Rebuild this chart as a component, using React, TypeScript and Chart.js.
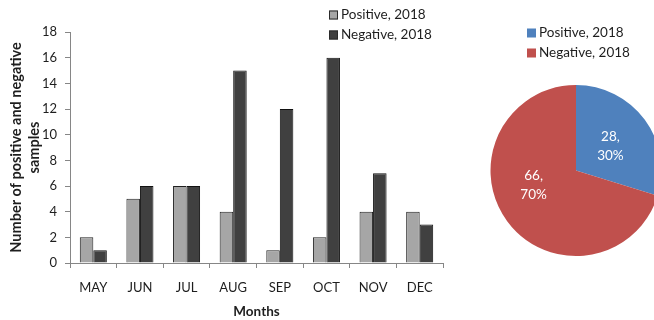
import React, { useEffect, useRef } from 'react';
import { Chart, registerables } from 'chart.js';

Chart.register(...registerables);

const months = ['MAY', 'JUN', 'JUL', 'AUG', 'SEP', 'OCT', 'NOV', 'DEC'];
const positive2018 = [2, 5, 6, 4, 1, 2, 4, 4];
const negative2018 = [1, 6, 6, 15, 12, 16, 7, 3];
const seriesLabels = ['Positive, 2018', 'Negative, 2018'];
const pieTotals = [28, 66];
const yMax = 18;
const yStep = 2;
const yTitle = ['Number of positive and negative', 'samples'];
const xTitle = 'Months';

const FONT = 'Lato, "Open Sans", "DejaVu Sans", sans-serif';
const TEXT = '#1e1e1e';
const AXIS = '#868686';

const legendPlugin = {
  id: 'boxLegend',
  afterDraw(chart: any, _args: any, opts: any) {
    if (!opts || !opts.x) return;
    const ctx = chart.ctx;
    const ds = chart.data.datasets[0];
    const items = opts.pie
      ? chart.data.labels.map((l: string, i: number) => ({ label: l, color: ds.backgroundColor[i] }))
      : chart.data.datasets.map((d: any) => ({ label: d.label, color: d.backgroundColor }));
    ctx.save();
    items.forEach((it: any, i: number) => {
      const yy = opts.y + i * opts.gap;
      ctx.fillStyle = it.color;
      ctx.fillRect(opts.x, yy - 4.5, 9, 9);
      if (opts.border) {
        ctx.strokeStyle = '#2a2a2a';
        ctx.lineWidth = 1;
        ctx.strokeRect(opts.x + 0.5, yy - 4, 8, 8);
      }
      ctx.fillStyle = TEXT;
      ctx.font = `13.5px ${FONT}`;
      ctx.textBaseline = 'middle';
      ctx.textAlign = 'left';
      ctx.fillText(it.label, opts.x + 12, yy);
    });
    ctx.restore();
  },
};

const pieLabelPlugin = {
  id: 'pieLabels',
  afterDatasetsDraw(chart: any) {
    const ctx = chart.ctx;
    const meta = chart.getDatasetMeta(0);
    const data = chart.data.datasets[0].data as number[];
    const total = data.reduce((a, b) => a + b, 0);
    ctx.save();
    ctx.fillStyle = '#ffffff';
    ctx.font = `13.5px ${FONT}`;
    ctx.textAlign = 'center';
    ctx.textBaseline = 'middle';
    meta.data.forEach((arc: any, i: number) => {
      const p = arc.tooltipPosition();
      // nudge the larger slice's label toward its visual centre the way the source does
      const dx = i === 1 ? -8 : 0;
      const dy = i === 1 ? -11 : 0;
      const pct = Math.round((data[i] / total) * 100);
      ctx.fillText(`${data[i]},`, p.x + dx, p.y + dy - 9);
      ctx.fillText(`${pct}%`, p.x + dx, p.y + dy + 10);
    });
    ctx.restore();
  },
};

export default function App() {
  const barRef = useRef<HTMLCanvasElement>(null);
  const pieRef = useRef<HTMLCanvasElement>(null);

  useEffect(() => {
    const bar = new Chart(barRef.current!, {
      type: 'bar',
      data: {
        labels: months,
        datasets: [
          {
            label: seriesLabels[0],
            data: positive2018,
            backgroundColor: '#a6a6a6',
            borderColor: '#202020',
            borderWidth: 1,
            categoryPercentage: 0.58,
            barPercentage: 1,
          },
          {
            label: seriesLabels[1],
            data: negative2018,
            backgroundColor: '#404040',
            borderColor: '#111111',
            borderWidth: 1,
            categoryPercentage: 0.58,
            barPercentage: 1,
          },
        ],
      },
      options: {
        responsive: false,
        animation: false,
        layout: { padding: { top: 32, right: 17, left: 0, bottom: 0 } },
        plugins: {
          legend: { display: false },
          tooltip: { enabled: false },
          boxLegend: { x: 329, y: 15, gap: 20, border: true },
        } as any,
        scales: {
          x: {
            grid: { drawOnChartArea: false, tickLength: 5, color: AXIS, offset: true },
            border: { color: AXIS },
            ticks: { color: TEXT, font: { family: FONT, size: 13 }, padding: 12, maxRotation: 0 },
            title: {
              display: true,
              text: xTitle,
              color: TEXT,
              font: { family: FONT, size: 13.5, weight: 'bold' },
              padding: { top: 0, bottom: 0 },
            },
            afterFit: (s: any) => {
              s.height = 57;
            },
          },
          y: {
            min: 0,
            max: yMax,
            grid: { drawOnChartArea: false, tickLength: 5, color: AXIS },
            border: { color: AXIS },
            ticks: { stepSize: yStep, color: TEXT, font: { family: FONT, size: 13 }, padding: 8 },
            title: {
              display: true,
              text: yTitle,
              color: TEXT,
              font: { family: FONT, size: 14.5, weight: 'bold', lineHeight: 1.2 },
              padding: { top: 8, bottom: 0 },
            },
            afterFit: (s: any) => {
              s.width = 70;
            },
          },
        },
      },
      plugins: [legendPlugin],
    } as any);

    const pie = new Chart(pieRef.current!, {
      type: 'pie',
      data: {
        labels: seriesLabels,
        datasets: [
          {
            data: pieTotals,
            backgroundColor: ['#4f81bd', '#c0504d'],
            borderWidth: 0,
          },
        ],
      },
      options: {
        responsive: false,
        animation: false,
        layout: { padding: { top: 85, bottom: 64, left: 20, right: 20 } },
        plugins: {
          legend: { display: false },
          tooltip: { enabled: false },
          boxLegend: { x: 57, y: 33, gap: 20, border: false, pie: true },
        } as any,
      },
      plugins: [legendPlugin, pieLabelPlugin],
    } as any);

    return () => {
      bar.destroy();
      pie.destroy();
    };
  }, []);

  return (
    <div
      style={{
        position: 'fixed',
        left: 0,
        top: 0,
        width: 654,
        height: 320,
        overflow: 'hidden',
        background: '#ffffff',
      }}
    >
      <canvas ref={barRef} width={460} height={320} style={{ position: 'absolute', left: 0, top: 0 }} />
      <canvas ref={pieRef} width={212} height={320} style={{ position: 'absolute', left: 470, top: 0 }} />
    </div>
  );
}
